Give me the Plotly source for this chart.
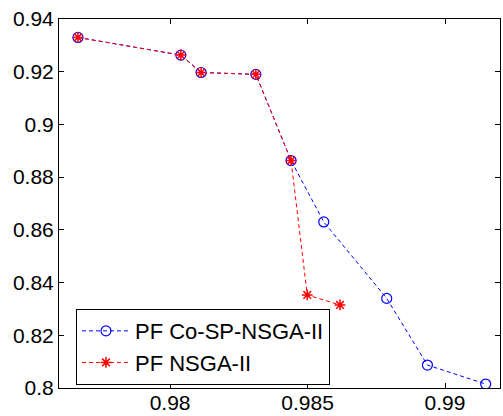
import plotly.graph_objects as go

# Pareto fronts
co_sp_x = [0.97665, 0.98039, 0.98113, 0.98312, 0.98440, 0.98559, 0.98788, 0.98936, 0.99148]
co_sp_y = [0.9330, 0.9263, 0.9197, 0.9190, 0.8863, 0.8630, 0.8340, 0.8087, 0.8015]

nsga_x = [0.97665, 0.98039, 0.98113, 0.98312, 0.98440, 0.98499, 0.98618]
nsga_y = [0.9330, 0.9263, 0.9197, 0.9190, 0.8863, 0.8353, 0.8315]

fig = go.Figure()
fig.add_trace(go.Scatter(
    x=co_sp_x, y=co_sp_y, mode="lines+markers", name="PF Co-SP-NSGA-II",
    line=dict(color="#0000ff", width=1, dash="4px,3px"),
    marker=dict(symbol="circle-open", size=10, color="#0000ff", line=dict(width=1.2)),
))
fig.add_trace(go.Scatter(
    x=nsga_x, y=nsga_y, mode="lines+markers", name="PF NSGA-II",
    line=dict(color="#ff0000", width=1, dash="4px,3px"),
    marker=dict(symbol="asterisk-open", size=9, color="#ff0000", line=dict(width=1.5, color="#ff0000")),
))

axis_style = dict(
    showline=True, linecolor="black", linewidth=1, mirror="allticks",
    ticks="inside", ticklen=5, tickcolor="black", showgrid=False, zeroline=False,
    tickfont=dict(size=21, color="black"), automargin=False,
)
fig.update_xaxes(range=[0.97596, 0.992], tickvals=[0.98, 0.985, 0.99],
                 ticktext=["0.98", "0.985", "0.99"], ticklabelstandoff=-4, **axis_style)
fig.update_yaxes(range=[0.8, 0.94], tickvals=[0.8, 0.82, 0.84, 0.86, 0.88, 0.9, 0.92, 0.94],
                 ticktext=["0.8", "0.82", "0.84", "0.86", "0.88", "0.9", "0.92", "0.94"], **axis_style)

fig.update_layout(
    width=503, height=416,
    margin=dict(l=59, r=3, t=19, b=28),
    paper_bgcolor="white", plot_bgcolor="white",
    font=dict(family="Liberation Sans, Arial", size=21, color="black"),
    legend=dict(x=0.0385, y=0.008, xanchor="left", yanchor="bottom",
                bordercolor="black", borderwidth=1, bgcolor="white",
                font=dict(size=22), tracegroupgap=0, itemwidth=48),
    showlegend=True,
)

# drop the default page margin so the figure sits at the window corner
fig.write_html("out.html", config={"displayModeBar": False},
               post_script="document.body.style.margin='0';")
